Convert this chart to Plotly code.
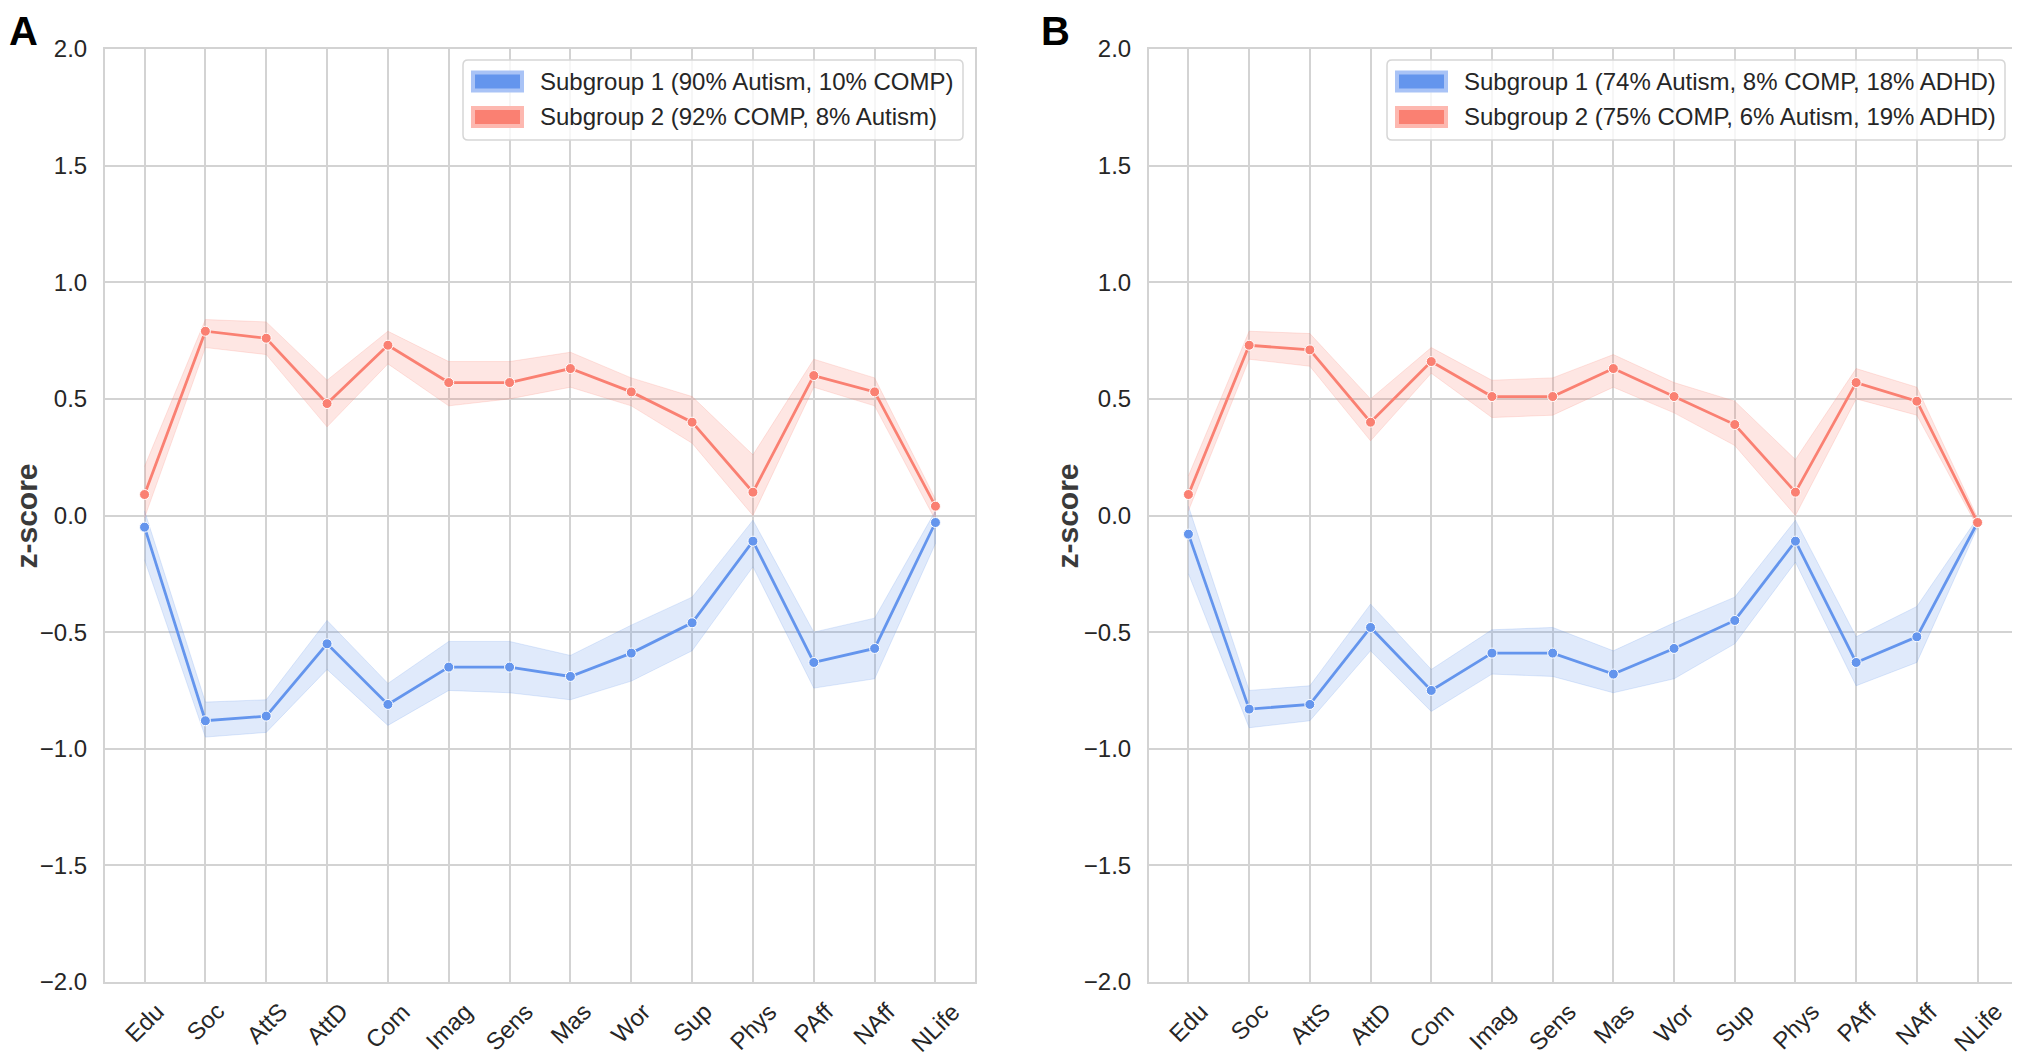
import plotly.graph_objects as go

# ---------------- data ----------------
categories = ["Edu", "Soc", "AttS", "AttD", "Com", "Imag", "Sens", "Mas",
              "Wor", "Sup", "Phys", "PAff", "NAff", "NLife"]

yticks = [-2.0, -1.5, -1.0, -0.5, 0.0, 0.5, 1.0, 1.5, 2.0]

A_labels = ["Subgroup 1 (90% Autism, 10% COMP)",
            "Subgroup 2 (92% COMP, 8% Autism)"]
B_labels = ["Subgroup 1 (74% Autism, 8% COMP, 18% ADHD)",
            "Subgroup 2 (75% COMP, 6% Autism, 19% ADHD)"]

A_sub1_mean = [-0.05, -0.88, -0.86, -0.55, -0.81, -0.65, -0.65, -0.69, -0.59, -0.46, -0.11, -0.63, -0.57, -0.03]
A_sub1_lo   = [-0.19, -0.95, -0.93, -0.66, -0.90, -0.75, -0.76, -0.79, -0.71, -0.58, -0.22, -0.74, -0.70, -0.12]
A_sub1_hi   = [0.02, -0.80, -0.79, -0.45, -0.72, -0.54, -0.54, -0.60, -0.47, -0.35, -0.02, -0.50, -0.44, 0.02]

A_sub2_mean = [0.09, 0.79, 0.76, 0.48, 0.73, 0.57, 0.57, 0.63, 0.53, 0.40, 0.10, 0.60, 0.53, 0.04]
A_sub2_lo   = [-0.01, 0.72, 0.69, 0.38, 0.65, 0.47, 0.50, 0.55, 0.47, 0.31, 0.00, 0.55, 0.47, -0.02]
A_sub2_hi   = [0.21, 0.84, 0.83, 0.58, 0.79, 0.66, 0.66, 0.70, 0.59, 0.51, 0.26, 0.67, 0.59, 0.07]

B_sub1_mean = [-0.08, -0.83, -0.81, -0.48, -0.75, -0.59, -0.59, -0.68, -0.57, -0.45, -0.11, -0.63, -0.52, -0.03]
B_sub1_lo   = [-0.25, -0.91, -0.88, -0.58, -0.84, -0.68, -0.69, -0.76, -0.70, -0.55, -0.20, -0.73, -0.63, -0.05]
B_sub1_hi   = [0.04, -0.75, -0.73, -0.38, -0.66, -0.49, -0.48, -0.58, -0.46, -0.35, -0.02, -0.52, -0.39, -0.01]

B_sub2_mean = [0.09, 0.73, 0.71, 0.40, 0.66, 0.51, 0.51, 0.63, 0.51, 0.39, 0.10, 0.57, 0.49, -0.03]
B_sub2_lo   = [0.02, 0.67, 0.64, 0.32, 0.61, 0.42, 0.43, 0.55, 0.44, 0.30, 0.00, 0.50, 0.43, -0.05]
B_sub2_hi   = [0.17, 0.79, 0.78, 0.50, 0.72, 0.58, 0.59, 0.69, 0.57, 0.49, 0.24, 0.63, 0.55, -0.01]

# ---------------- style ----------------
OFF = 8                                  # page (body) margin of the html page
W, H = 2020 - OFF, 1056 - OFF            # figure size
# plot area bounds in screen pixels
S_LEFT, S_RIGHT, S_TOP, S_BOT = 105, 2017, 49, 982
ML, MR, MT, MB = S_LEFT - OFF, W - (S_RIGHT - OFF), S_TOP - OFF, H - (S_BOT - OFF)

FONT = "Liberation Sans, Arial, sans-serif"
TXT = "#262626"
GRID = "#d3d3d3"
BLUE = "#6495ED"
RED = "#FA8072"
BLUE_BAND = "rgba(100,149,237,0.2)"
RED_BAND = "rgba(250,128,114,0.2)"
BLUE_SW_OUT = "#a9c3f6"
RED_SW_OUT = "#fdb8b0"

PW, PH = W - ML - MR, H - MT - MB


def px_x(s):
    """screen x pixel -> paper fraction"""
    return (s - OFF - ML) / PW


def px_y(s):
    """screen y pixel -> paper fraction"""
    return 1 - (s - OFF - MT) / PH


panels = [
    dict(name="A", xa="x", ya="y", dom=(105, 975), letter_x=8, ytitle_x=8,
         legend=(463, 963), labels=A_labels,
         series=[(A_sub1_mean, A_sub1_lo, A_sub1_hi, BLUE, BLUE_BAND, BLUE_SW_OUT),
                 (A_sub2_mean, A_sub2_lo, A_sub2_hi, RED, RED_BAND, RED_SW_OUT)]),
    dict(name="B", xa="x2", ya="y2", dom=(1149, 2017), letter_x=1040, ytitle_x=1049,
         legend=(1387, 2005), labels=B_labels,
         series=[(B_sub1_mean, B_sub1_lo, B_sub1_hi, BLUE, BLUE_BAND, BLUE_SW_OUT),
                 (B_sub2_mean, B_sub2_lo, B_sub2_hi, RED, RED_BAND, RED_SW_OUT)]),
]

fig = go.Figure()
xs = list(range(len(categories)))
annotations = []
shapes = []

for k, pn in enumerate(panels):
    for mean, lo, hi, col, band, swo in pn["series"]:
        fig.add_trace(go.Scatter(
            x=xs + xs[::-1], y=hi + lo[::-1], xaxis=pn["xa"], yaxis=pn["ya"],
            fill="toself", fillcolor=band, mode="lines",
            line=dict(width=1, color=band), hoverinfo="skip", showlegend=False))
    for mean, lo, hi, col, band, swo in pn["series"]:
        fig.add_trace(go.Scatter(
            x=xs, y=mean, xaxis=pn["xa"], yaxis=pn["ya"], mode="lines+markers",
            line=dict(color=col, width=2.8),
            marker=dict(size=10, color=col, line=dict(color="white", width=1)),
            showlegend=False))

    # x tick labels (rotated, centred on each category)
    for i, c in enumerate(categories):
        annotations.append(dict(
            x=i, xref=pn["xa"], y=px_y(995), yref="paper", text=c,
            showarrow=False, textangle=-45, xanchor="center", yanchor="top",
            font=dict(family=FONT, size=24, color=TXT)))

    # y title (left edge of its box at ytitle_x)
    annotations.append(dict(
        x=px_x(pn["ytitle_x"]), xref="paper", y=px_y(516), yref="paper",
        text="<b>z-score</b>", showarrow=False, textangle=-90, borderpad=0,
        xanchor="left", yanchor="middle",
        font=dict(family=FONT, size=30, color="#3a3a3a")))

    # panel letter
    annotations.append(dict(
        x=px_x(pn["letter_x"]), xref="paper", y=px_y(OFF), yref="paper",
        text="<b>%s</b>" % pn["name"], showarrow=False, borderpad=0,
        xanchor="left", yanchor="top",
        font=dict(family=FONT, size=40, color="black")))

    # legend box
    lx0, lx1 = pn["legend"]
    ly0, ly1 = 60, 140
    r = 5
    path = (f"M{px_x(lx0 + r)},{px_y(ly0)} L{px_x(lx1 - r)},{px_y(ly0)} "
            f"Q{px_x(lx1)},{px_y(ly0)} {px_x(lx1)},{px_y(ly0 + r)} "
            f"L{px_x(lx1)},{px_y(ly1 - r)} Q{px_x(lx1)},{px_y(ly1)} {px_x(lx1 - r)},{px_y(ly1)} "
            f"L{px_x(lx0 + r)},{px_y(ly1)} Q{px_x(lx0)},{px_y(ly1)} {px_x(lx0)},{px_y(ly1 - r)} "
            f"L{px_x(lx0)},{px_y(ly0 + r)} Q{px_x(lx0)},{px_y(ly0)} {px_x(lx0 + r)},{px_y(ly0)} Z")
    shapes.append(dict(type="path", xref="paper", yref="paper", path=path,
                       fillcolor="rgba(255,255,255,0.8)", line=dict(color="#d6d6d6", width=1.5),
                       layer="above"))
    for j, (lab, ser) in enumerate(zip(pn["labels"], pn["series"])):
        cy = 81.5 + 35.5 * j
        col, swo = ser[3], ser[5]
        shapes.append(dict(type="rect", xref="paper", yref="paper",
                           x0=px_x(lx0 + 8), x1=px_x(lx0 + 61), y0=px_y(cy - 11), y1=px_y(cy + 11),
                           fillcolor=swo, line=dict(width=0), layer="above"))
        shapes.append(dict(type="rect", xref="paper", yref="paper",
                           x0=px_x(lx0 + 12), x1=px_x(lx0 + 57), y0=px_y(cy - 7), y1=px_y(cy + 7),
                           fillcolor=col, line=dict(width=0), layer="above"))
        annotations.append(dict(
            x=px_x(lx0 + 75), xref="paper", y=px_y(cy), yref="paper", text=lab,
            showarrow=False, xanchor="left", yanchor="middle",
            font=dict(family=FONT, size=24, color=TXT)))

axis_common = dict(showgrid=True, gridcolor=GRID, gridwidth=1.5, zeroline=False,
                   showline=True, linecolor=GRID, linewidth=2, mirror=True,
                   automargin=False)

layout = dict(
    width=W, height=H, autosize=False,
    margin=dict(l=ML, r=MR, t=MT, b=MB, pad=0, autoexpand=False),
    paper_bgcolor="white", plot_bgcolor="white", showlegend=False,
    font=dict(family=FONT, color=TXT),
    annotations=annotations, shapes=shapes,
)
for k, pn in enumerate(panels):
    sfx = "" if k == 0 else "2"
    layout["xaxis" + sfx] = dict(
        domain=[px_x(pn["dom"][0]), px_x(pn["dom"][1])], range=[-0.65, len(categories) - 0.35],
        tickvals=xs, ticktext=categories, showticklabels=False,
        anchor="y" + sfx, **axis_common)
    layout["yaxis" + sfx] = dict(
        domain=[0, 1], range=[-2, 2], tickvals=yticks,
        tickformat=".1f", ticks="outside", ticklen=11, tickcolor="rgba(0,0,0,0)",
        tickfont=dict(family=FONT, size=24, color=TXT),
        anchor="x" + sfx, **axis_common)

fig.update_layout(**layout)
fig.write_html("out.html")
